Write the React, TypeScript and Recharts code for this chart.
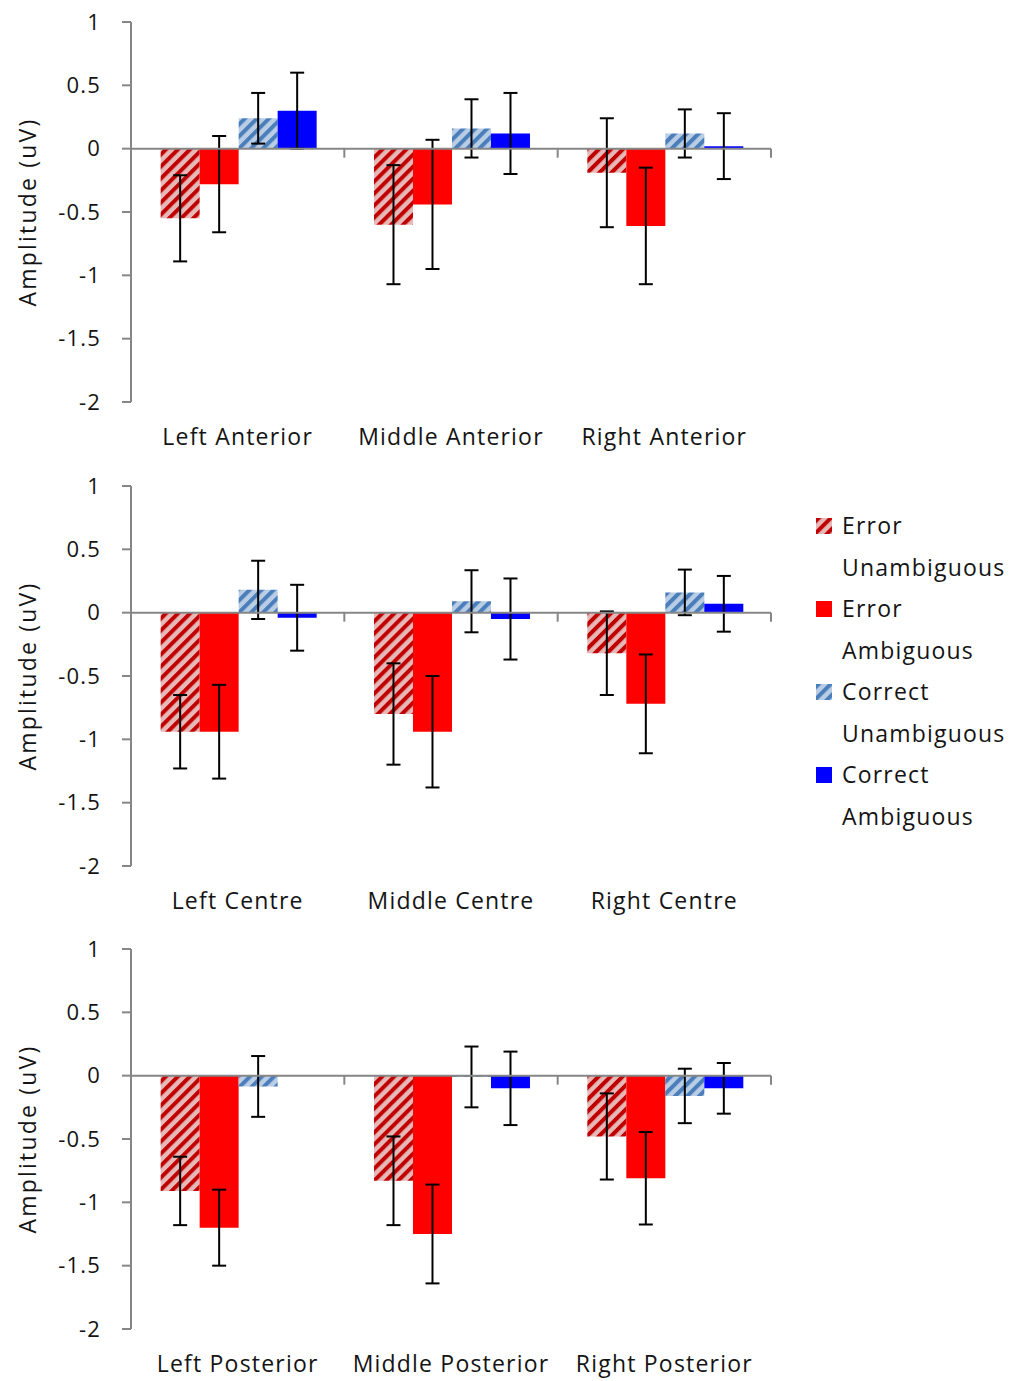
import { Bar, BarChart, ErrorBar, Legend, ReferenceLine, XAxis, YAxis } from 'recharts';

const anteriorLabels = ['Left Anterior', 'Middle Anterior', 'Right Anterior'];
const centreLabels = ['Left Centre', 'Middle Centre', 'Right Centre'];
const posteriorLabels = ['Left Posterior', 'Middle Posterior', 'Right Posterior'];

const seriesKeys = ['eu', 'ea', 'cu', 'ca'];
const yTicks = [-2, -1.5, -1, -0.5, 0, 0.5, 1];

// anterior
const antErrUnamb = [-0.55, -0.6, -0.19];
const antErrUnambSe = [0.34, 0.47, 0.43];
const antErrAmb = [-0.28, -0.44, -0.61];
const antErrAmbSe = [0.38, 0.51, 0.46];
const antCorUnamb = [0.24, 0.16, 0.12];
const antCorUnambSe = [0.2, 0.23, 0.19];
const antCorAmb = [0.3, 0.12, 0.02];
const antCorAmbSe = [0.3, 0.32, 0.26];

// centre
const cenErrUnamb = [-0.94, -0.8, -0.32];
const cenErrUnambSe = [0.29, 0.4, 0.33];
const cenErrAmb = [-0.94, -0.94, -0.72];
const cenErrAmbSe = [0.37, 0.44, 0.39];
const cenCorUnamb = [0.18, 0.09, 0.16];
const cenCorUnambSe = [0.23, 0.245, 0.18];
const cenCorAmb = [-0.04, -0.05, 0.07];
const cenCorAmbSe = [0.26, 0.32, 0.22];

// posterior
const posErrUnamb = [-0.91, -0.83, -0.48];
const posErrUnambSe = [0.27, 0.35, 0.34];
const posErrAmb = [-1.2, -1.25, -0.81];
const posErrAmbSe = [0.3, 0.39, 0.365];
const posCorUnamb = [-0.085, -0.01, -0.16];
const posCorUnambSe = [0.24, 0.24, 0.215];
const posCorAmb = [0, -0.1, -0.1];
const posCorAmbSe = [0.27, 0.29, 0.2];

const TEXT = '#141414';
const AXIS = '#868686';
const FONT = '"Open Sans", sans-serif';

function buildRows(
  labels: string[],
  eu: number[], euE: number[],
  ea: number[], eaE: number[],
  cu: number[], cuE: number[],
  ca: number[], caE: number[],
) {
  return labels.map((name, i) => ({
    name,
    eu: eu[i], euE: euE[i],
    ea: ea[i], eaE: eaE[i],
    cu: cu[i], cuE: cuE[i],
    ca: ca[i], caE: caE[i],
  }));
}

const anteriorRows = buildRows(anteriorLabels, antErrUnamb, antErrUnambSe, antErrAmb, antErrAmbSe, antCorUnamb, antCorUnambSe, antCorAmb, antCorAmbSe);
const centreRows = buildRows(centreLabels, cenErrUnamb, cenErrUnambSe, cenErrAmb, cenErrAmbSe, cenCorUnamb, cenCorUnambSe, cenCorAmb, cenCorAmbSe);
const posteriorRows = buildRows(posteriorLabels, posErrUnamb, posErrUnambSe, posErrAmb, posErrAmbSe, posCorUnamb, posCorUnambSe, posCorAmb, posCorAmbSe);

function Hatch(props: { id: string; bg: string; fg: string }) {
  return (
    <pattern id={props.id} patternUnits="userSpaceOnUse" width={8.5} height={8.5} patternTransform="rotate(45)">
      <rect width={8.5} height={8.5} fill={props.bg} />
      <rect width={4} height={8.5} fill={props.fg} />
    </pattern>
  );
}

/** zero line with the small category boundary ticks hanging below it */
function ZeroAxis(props: any) {
  const { x1, y1, x2, y2 } = props;
  const n = 3;
  const step = (x2 - x1) / n;
  return (
    <g>
      <line x1={x1} y1={y1} x2={x2} y2={y2} stroke={AXIS} strokeWidth={2} />
      {Array.from({ length: n }, (_, i) => {
        const x = x1 + step * (i + 1);
        return <line key={i} x1={x} y1={y1} x2={x} y2={y1 + 9} stroke={AXIS} strokeWidth={2} />;
      })}
    </g>
  );
}

const iconFill: Record<string, string> = {
  eu: 'url(#lgRed)',
  ea: '#ff0000',
  cu: 'url(#lgBlue)',
  ca: '#0000ff',
};

function LegendContent(props: any) {
  const payload = [...(props.payload ?? [])].sort(
    (a: any, b: any) => seriesKeys.indexOf(a.dataKey) - seriesKeys.indexOf(b.dataKey),
  );
  return (
    <div style={{ fontFamily: FONT, fontSize: 23, letterSpacing: 1.2, lineHeight: '41.5px', color: TEXT }}>
      <svg width={0} height={0} style={{ position: 'absolute' }}>
        <defs>
          <Hatch id="lgRed" bg="#e6b9b8" fg="#c00000" />
          <Hatch id="lgBlue" bg="#b9cde5" fg="#4a7ebb" />
        </defs>
      </svg>
      {payload.map((p: any) => {
        const [first, ...rest] = String(p.value).split(' ');
        return (
          <div key={p.value} style={{ position: 'relative', paddingLeft: 34 }}>
            <svg width={16} height={16} style={{ position: 'absolute', left: 8, top: 13 }}>
              <rect width={16} height={16} fill={iconFill[p.dataKey] ?? p.color} />
            </svg>
            <div>{first}</div>
            <div>{rest.join(' ')}</div>
          </div>
        );
      })}
    </div>
  );
}

function Panel(props: { rows: any[]; top: number; id: string; legend?: boolean }) {
  const redHatch = `hatchRed${props.id}`;
  const blueHatch = `hatchBlue${props.id}`;
  return (
    <div style={{ position: 'absolute', left: 0, top: props.top }}>
      <BarChart
        width={1033}
        height={464}
        data={props.rows}
        margin={{ top: 22, right: 262, bottom: 0, left: 11 }}
        barCategoryGap="13.9%"
        barGap={0}
      >
        <defs>
          <Hatch id={redHatch} bg="#e6b9b8" fg="#c00000" />
          <Hatch id={blueHatch} bg="#b9cde5" fg="#4a7ebb" />
        </defs>
        <XAxis
          dataKey="name"
          axisLine={false}
          tickLine={false}
          tickSize={0}
          tickMargin={27}
          height={62}
          interval={0}
          tick={{ fill: TEXT, fontSize: 23, fontFamily: FONT, letterSpacing: 1.2 }}
        />
        <YAxis
          domain={[-2, 1]}
          ticks={yTicks}
          width={120}
          stroke={AXIS}
          axisLine={{ stroke: AXIS, strokeWidth: 2 }}
          tickLine={{ stroke: AXIS, strokeWidth: 2 }}
          tickSize={9}
          tickMargin={21}
          tick={{ fill: TEXT, fontSize: 22, fontFamily: FONT, letterSpacing: 1.2 }}
          label={{
            value: 'Amplitude (uV)',
            angle: -90,
            position: 'insideLeft',
            offset: 17,
            style: { textAnchor: 'middle', fill: TEXT, fontSize: 23, fontFamily: FONT, letterSpacing: 2.2 },
          }}
        />
        <Bar dataKey="eu" name="Error Unambiguous" fill={`url(#${redHatch})`} isAnimationActive={false}>
          <ErrorBar dataKey="euE" width={7} stroke="#000" strokeWidth={2} />
        </Bar>
        <Bar dataKey="ea" name="Error Ambiguous" fill="#ff0000" isAnimationActive={false}>
          <ErrorBar dataKey="eaE" width={7} stroke="#000" strokeWidth={2} />
        </Bar>
        <Bar dataKey="cu" name="Correct Unambiguous" fill={`url(#${blueHatch})`} isAnimationActive={false}>
          <ErrorBar dataKey="cuE" width={7} stroke="#000" strokeWidth={2} />
        </Bar>
        <Bar dataKey="ca" name="Correct Ambiguous" fill="#0000ff" isAnimationActive={false}>
          <ErrorBar dataKey="caE" width={7} stroke="#000" strokeWidth={2} />
        </Bar>
        <ReferenceLine y={0} shape={ZeroAxis} />
        {props.legend ? (
          <Legend
            layout="horizontal"
            verticalAlign="middle"
            align="center"
            wrapperStyle={{ left: 808, top: 41, width: 225 }}
            content={LegendContent}
          />
        ) : null}
      </BarChart>
    </div>
  );
}

export default function App() {
  return (
    <div
      style={{
        position: 'absolute',
        left: 0,
        top: 0,
        width: 1033,
        height: 1381,
        overflow: 'hidden',
        background: '#fff',
        fontFamily: FONT,
      }}
    >
      <Panel rows={anteriorRows} top={0} id="A" />
      <Panel rows={centreRows} top={464} id="C" legend />
      <Panel rows={posteriorRows} top={927} id="P" />
    </div>
  );
}
